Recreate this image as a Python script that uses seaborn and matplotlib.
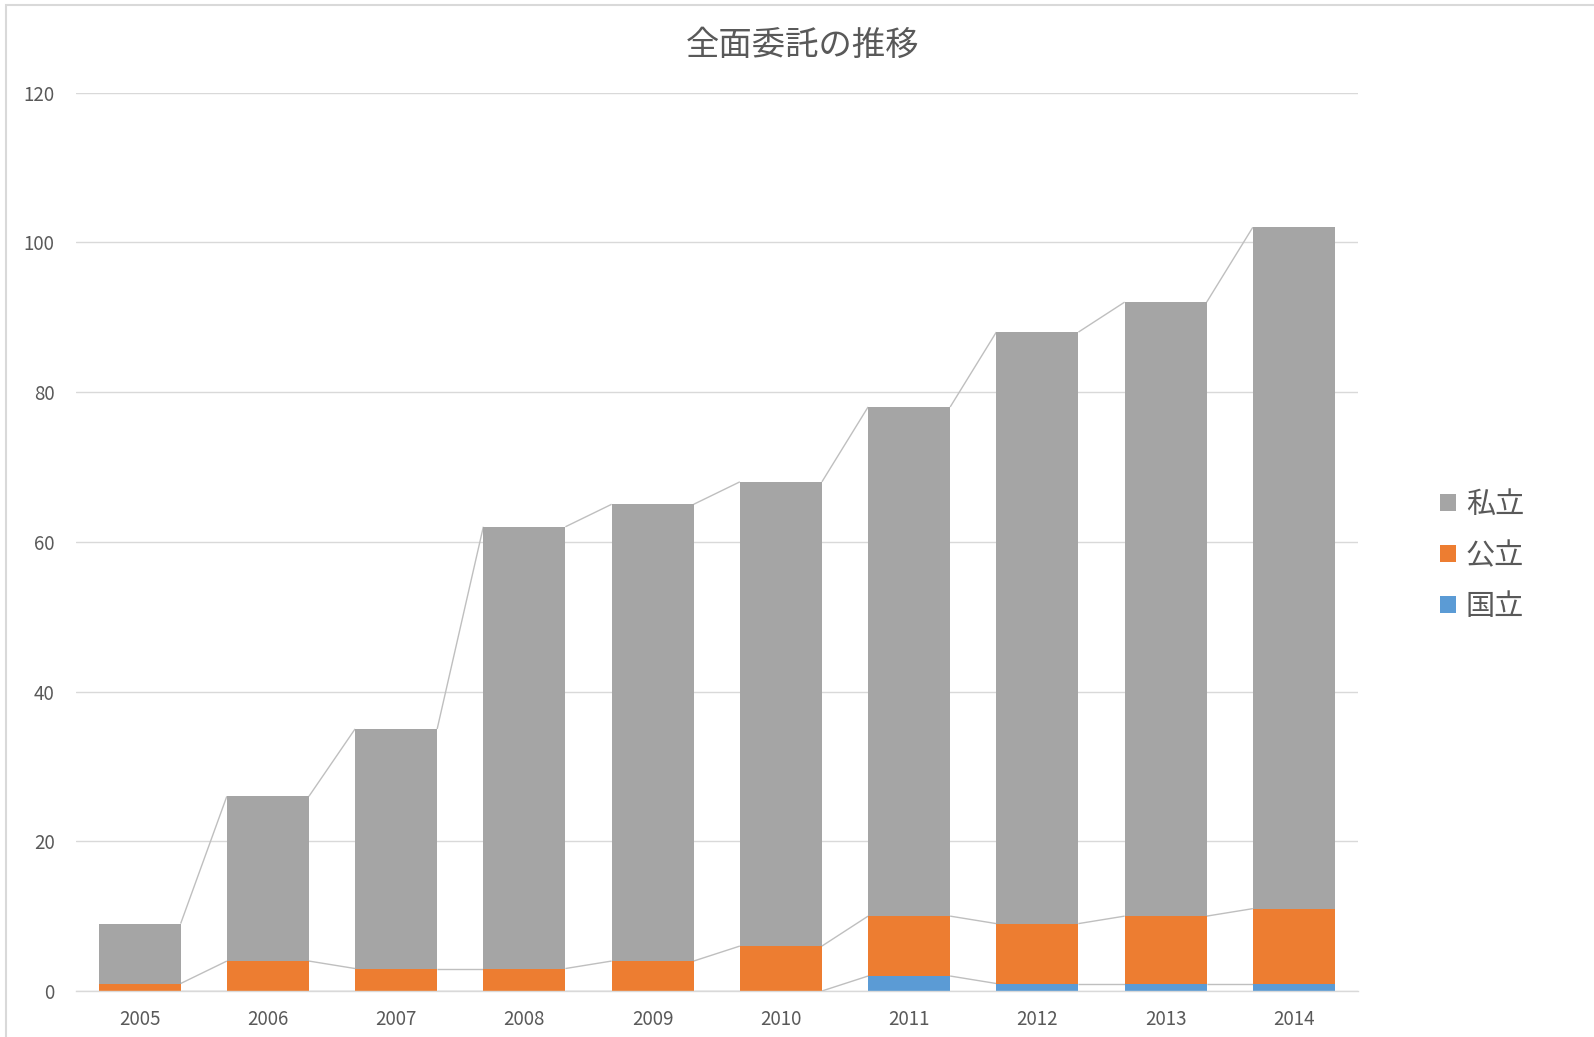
import matplotlib
matplotlib.use("Agg")
import matplotlib.pyplot as plt
import seaborn as sns
import numpy as np
import pandas as pd
from matplotlib.patches import Patch, Rectangle

years = ["2005", "2006", "2007", "2008", "2009", "2010", "2011", "2012", "2013", "2014"]
kokuritsu = [0, 0, 0, 0, 0, 0, 2, 1, 1, 1]        # 国立
kouritsu = [1, 4, 3, 3, 4, 6, 8, 8, 9, 10]        # 公立
shiritsu = [8, 22, 32, 59, 61, 62, 68, 79, 82, 91]  # 私立
series_names = ["国立", "公立", "私立"]
colors = {"国立": "#5B9BD5", "公立": "#ED7D31", "私立": "#A5A5A5"}
title = "全面委託の推移"
yticks = [0, 20, 40, 60, 80, 100, 120]

sns.set_theme(style="white")
plt.rcParams["font.family"] = ["Noto Sans CJK JP", "DejaVu Sans"]

fig = plt.figure(figsize=(15.94, 10.37), dpi=100)
ax = fig.add_axes([75.5 / 1594, 1 - 991 / 1037, (1358 - 75.5) / 1594, (991 - 92.5) / 1037])

c1 = np.array(kokuritsu)
c2 = c1 + np.array(kouritsu)
c3 = c2 + np.array(shiritsu)
cums = {"国立": c1, "公立": c2, "私立": c3}

width = 0.64
for name in ["私立", "公立", "国立"]:
    df = pd.DataFrame({"year": years, "value": cums[name]})
    sns.barplot(data=df, x="year", y="value", order=years, color=colors[name],
                width=width, linewidth=0, saturation=1, ax=ax, zorder=3, errorbar=None)

# series lines connecting bar tops (Excel style)
x = np.arange(len(years))
for name in series_names:
    top = cums[name]
    for i in range(len(years) - 1):
        ax.plot([x[i] + width / 2, x[i + 1] - width / 2], [top[i], top[i + 1]],
                color="#BFBFBF", lw=1.0, zorder=2, solid_capstyle="butt")

ax.set_xlim(-0.5, len(years) - 0.5)
ax.set_ylim(0, 120)
ax.set_yticks(yticks)
ax.set_yticklabels([str(v) for v in yticks])
ax.set_xlabel("")
ax.set_ylabel("")
ax.grid(axis="y", color="#D9D9D9", lw=1.0, zorder=0)
ax.set_axisbelow(True)
for s in ["top", "right", "left"]:
    ax.spines[s].set_visible(False)
ax.spines["bottom"].set_color("#D9D9D9")
ax.spines["bottom"].set_linewidth(1.0)
ax.spines["bottom"].set_zorder(4)
ax.tick_params(axis="both", length=0, labelsize=13.5, colors="#595959")
ax.tick_params(axis="y", pad=15)
ax.tick_params(axis="x", pad=13)

fig.text(803 / 1594, 1 - 45 / 1037, title, ha="center", va="center",
         fontsize=24, color="#595959")

handles = [Patch(facecolor=colors[n], edgecolor="none") for n in ["私立", "公立", "国立"]]
leg = fig.legend(handles, ["私立", "公立", "国立"], loc="center left",
                 bbox_to_anchor=(1428 / 1594, 1 - 556 / 1037), frameon=False,
                 fontsize=21, handlelength=0.55, handleheight=0.55, handletextpad=0.35,
                 labelspacing=0.72, borderaxespad=0)
for t in leg.get_texts():
    t.set_color("#595959")

fig.patches.append(Rectangle((6 / 1594, -0.05), 1.2, 1.05 - 5 / 1037, transform=fig.transFigure,
                             fill=False, edgecolor="#D9D9D9", lw=1.5, zorder=10))

fig.savefig("out.png", dpi=100)
